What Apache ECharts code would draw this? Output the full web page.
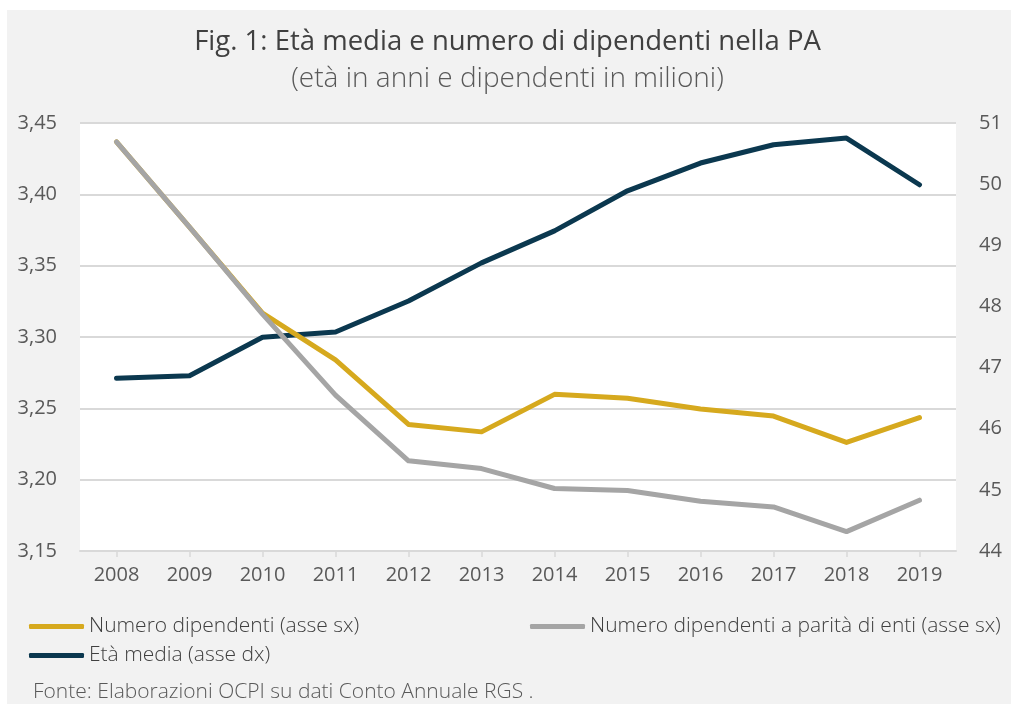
<!DOCTYPE html>
<html>
<head>
<meta charset="utf-8">
<script src="https://cdn.jsdelivr.net/npm/echarts@6/dist/echarts.min.js"></script>
<style>
html,body{margin:0;padding:0;background:#fff;}
#chart{width:1015px;height:705px;}
</style>
</head>
<body>
<div id="chart"></div>
<script>
var years = ['2008','2009','2010','2011','2012','2013','2014','2015','2016','2017','2018','2019'];
var numeroDipendenti = [3.4367, 3.377, 3.3168, 3.2839, 3.2387, 3.2335, 3.2598, 3.2570, 3.2495, 3.2446, 3.2261, 3.2435];
var numeroParitaEnti = [3.4367, 3.377, 3.316, 3.2593, 3.2132, 3.2078, 3.1938, 3.1924, 3.1849, 3.1809, 3.1636, 3.1856];
var etaMedia = [46.824, 46.866, 47.495, 47.582, 48.09, 48.712, 49.236, 49.891, 50.345, 50.645, 50.754, 49.99];
var seriesNames = ['Numero dipendenti (asse sx)', 'Numero dipendenti a parità di enti (asse sx)', 'Età media (asse dx)'];
var titleText = 'Fig. 1: Età media e numero di dipendenti nella PA';
var subtitleText = '(età in anni e dipendenti in milioni)';
var sourceText = 'Fonte: Elaborazioni OCPI su dati Conto Annuale RGS .';

var FONT = '"Open Sans", sans-serif';
var chart = echarts.init(document.getElementById('chart'), null, {renderer: 'canvas'});
var legendText = {fontFamily: FONT, fontSize: 21, color: '#404040', fontWeight: 300};

chart.setOption({
  backgroundColor: '#ffffff',
  animation: false,
  graphic: [
    {type: 'rect', z: -10, shape: {x: 7, y: 10, width: 1004, height: 694}, style: {fill: '#f2f2f2'}},
    {type: 'text', left: 33, top: 682, style: {text: sourceText, fontFamily: FONT, fontSize: 21, fill: '#595959', fontWeight: 300}}
  ],
  title: [
    {text: titleText, left: 'center', top: 23, textStyle: {fontFamily: FONT, fontSize: 27.5, fontWeight: 'normal', color: '#404040'}},
    {text: subtitleText, left: 'center', top: 60, textStyle: {fontFamily: FONT, fontSize: 28, fontWeight: 300, color: '#595959'}}
  ],
  legend: [
    {data: [seriesNames[0]], left: 29, top: 616, itemWidth: 55, itemHeight: 5, icon: 'roundRect', textStyle: legendText, padding: 0},
    {data: [seriesNames[1]], left: 530, top: 616, itemWidth: 55, itemHeight: 5, icon: 'roundRect', textStyle: legendText, padding: 0},
    {data: [seriesNames[2]], left: 29, top: 645, itemWidth: 55, itemHeight: 5, icon: 'roundRect', textStyle: legendText, padding: 0}
  ],
  grid: {left: 80, right: 59, top: 123, bottom: 154, show: true, backgroundColor: '#ffffff', borderWidth: 0},
  xAxis: {
    type: 'category',
    data: years,
    boundaryGap: true,
    axisLine: {lineStyle: {color: '#d9d9d9', width: 2}},
    axisTick: {show: true, alignWithLabel: true, length: 6, lineStyle: {color: '#d9d9d9', width: 1.5}},
    axisLabel: {fontFamily: FONT, fontSize: 20, color: '#595959', margin: 14}
  },
  yAxis: [
    {
      type: 'value', min: 3.15, max: 3.45, interval: 0.05, position: 'left',
      axisLine: {show: false}, axisTick: {show: false},
      splitLine: {lineStyle: {color: '#d9d9d9', width: 2}},
      axisLabel: {fontFamily: FONT, fontSize: 20, color: '#595959', margin: 23,
        formatter: function (v) { return v.toFixed(2).replace('.', ','); }}
    },
    {
      type: 'value', min: 44, max: 51, interval: 1, position: 'right',
      axisLine: {show: false}, axisTick: {show: false}, splitLine: {show: false},
      axisLabel: {fontFamily: FONT, fontSize: 20, color: '#595959', margin: 23}
    }
  ],
  series: [
    {name: seriesNames[0], type: 'line', yAxisIndex: 0, data: numeroDipendenti, showSymbol: false, symbol: 'none',
      lineStyle: {color: '#d6a91e', width: 5, cap: 'round', join: 'round'}, itemStyle: {color: '#d6a91e'}, z: 3},
    {name: seriesNames[1], type: 'line', yAxisIndex: 0, data: numeroParitaEnti, showSymbol: false, symbol: 'none',
      lineStyle: {color: '#a5a5a5', width: 5, cap: 'round', join: 'round'}, itemStyle: {color: '#a5a5a5'}, z: 4},
    {name: seriesNames[2], type: 'line', yAxisIndex: 1, data: etaMedia, showSymbol: false, symbol: 'none',
      lineStyle: {color: '#0b384f', width: 5, cap: 'round', join: 'round'}, itemStyle: {color: '#0b384f'}, z: 2}
  ]
});
</script>
</body>
</html>
